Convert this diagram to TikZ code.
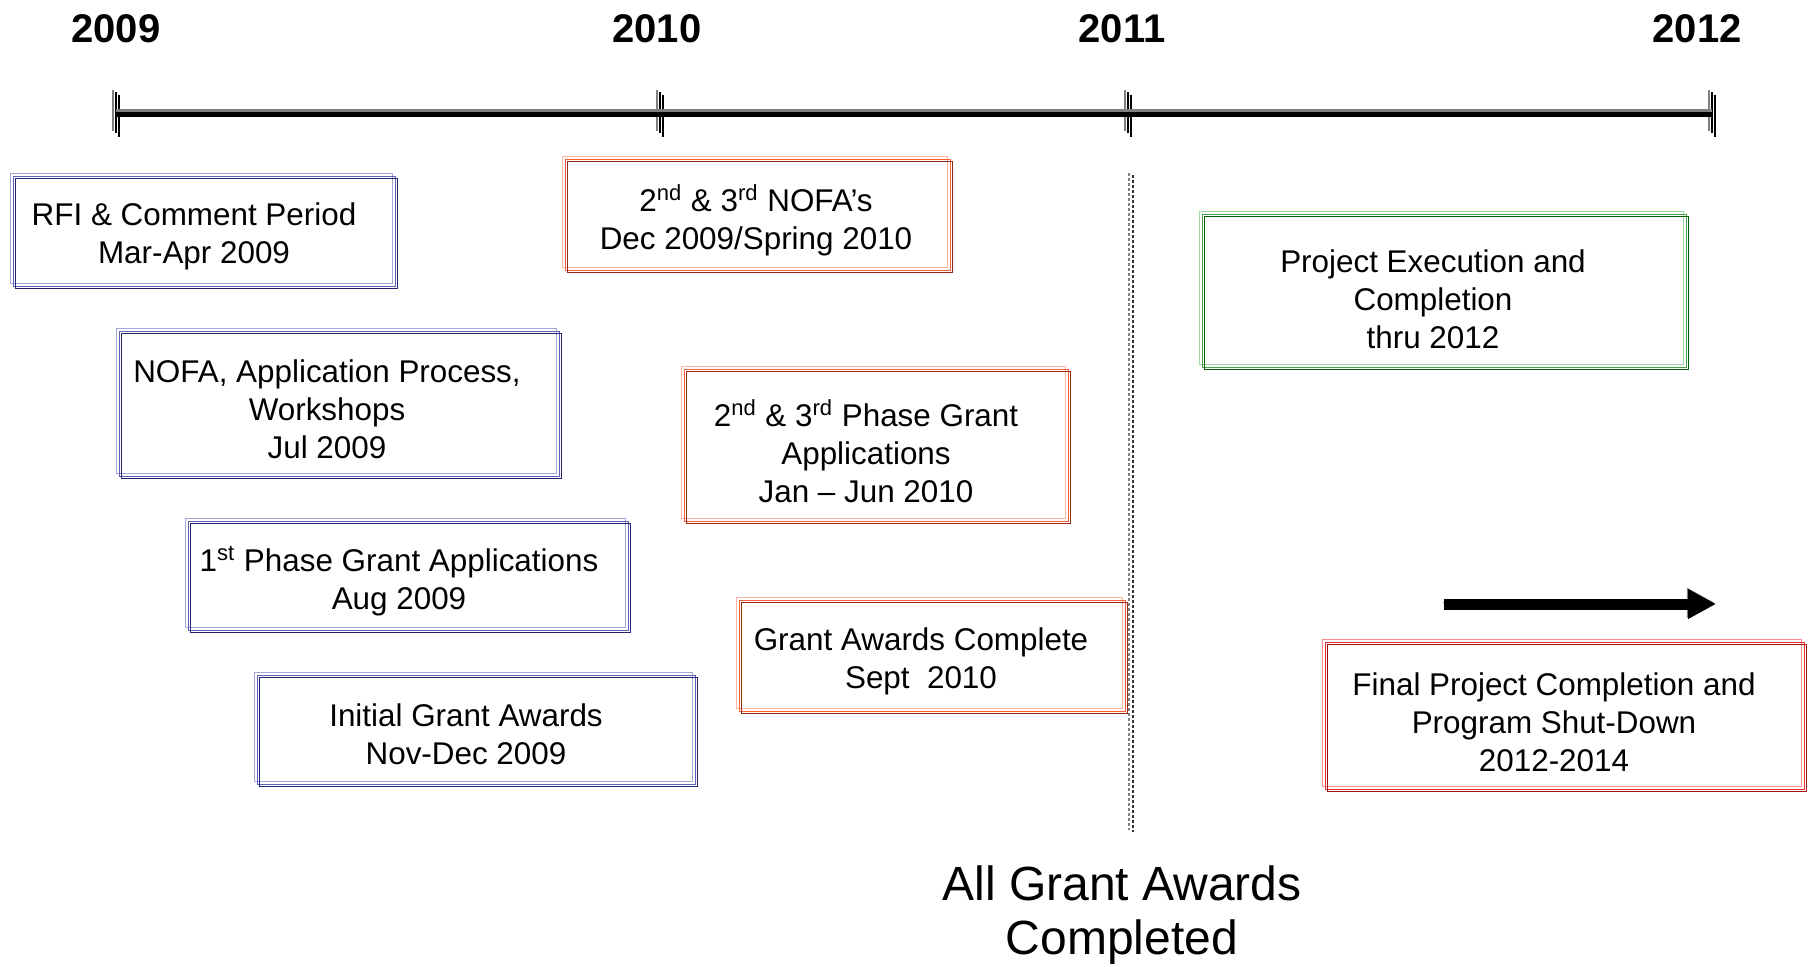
\documentclass[tikz,border=0pt]{standalone}
\usepackage{fontspec}
\setmainfont{Liberation Sans}
\usepackage{tikz}
\usetikzlibrary{arrows.meta}

\definecolor{blueA}{RGB}{165,165,222}
\definecolor{blueB}{RGB}{95,95,185}
\definecolor{blueC}{RGB}{35,35,110}
\definecolor{orangeA}{RGB}{255,178,160}
\definecolor{orangeB}{RGB}{250,95,60}
\definecolor{orangeC}{RGB}{150,40,20}
\definecolor{greenA}{RGB}{160,212,160}
\definecolor{greenB}{RGB}{70,160,70}
\definecolor{greenC}{RGB}{0,95,0}
\definecolor{redA}{RGB}{255,140,140}
\definecolor{redB}{RGB}{235,50,50}
\definecolor{redC}{RGB}{160,20,20}

\tikzset{
  tribox/.style n args={3}{draw=#2, line width=0.45pt, inner sep=0pt,
    preaction={draw=#1, transform canvas={shift={(-1.3pt,1.3pt)}}},
    postaction={draw=#3, transform canvas={shift={(1.2pt,-1.2pt)}}}},
  bluebox/.style={tribox={blueA}{blueB}{blueC}},
  orangebox/.style={tribox={orangeA}{orangeB}{orangeC}},
  greenbox/.style={tribox={greenA}{greenB}{greenC}},
  redbox/.style={tribox={redA}{redB}{redC}},
  boxtext/.style={align=center, inner sep=0pt, font=\fontsize{15.7}{19}\selectfont},
  yearlabel/.style={font=\fontsize{20}{24}\selectfont\bfseries, inner sep=0pt},
  biglabel/.style={align=center, inner sep=0pt, font=\fontsize{24}{27}\selectfont},
  timeline/.style={line width=2.5pt, preaction={draw=gray, line width=3.5pt,
    transform canvas={yshift=0.75pt}}},
  fatarrow/.style={line width=5.5pt, -{Triangle[length=14pt,width=14pt]},
    preaction={draw=gray, transform canvas={shift={(-0.6pt,0.6pt)}}}}
}

\begin{document}
\begin{tikzpicture}[x=0.5pt, y=-0.5pt]
  \useasboundingbox (0,0) rectangle (1808,966);

  % years and ticks
  \foreach \yr/\x/\lx in {2009/116/116, 2010/660/657, 2011/1128/1122, 2012/1712/1697} {
    \coordinate (t\yr) at (\x,114);
    \node[yearlabel] (y\yr) at (\lx,29) {\yr};
    \draw[gray, line width=1pt] ([shift={(-3,-24)}]t\yr) -- ([shift={(-3,17)}]t\yr);
    \draw[line width=1pt] ([shift={(0,-22)}]t\yr) -- ([shift={(0,19)}]t\yr);
    \draw[line width=1pt] ([shift={(3,-19)}]t\yr) -- ([shift={(3,23)}]t\yr);
  }
  \draw[timeline] (t2009) -- (t2012);

  % 2009 boxes
  \node[bluebox, minimum width=191pt, minimum height=55pt] (rfi) at (204,231) {};
  \node[boxtext] (rfitext) at (194,236) {RFI \& Comment Period\\Mar-Apr 2009};
  \node[bluebox, minimum width=220pt, minimum height=72.5pt] (nofa) at (339,403.5) {};
  \node[boxtext] (nofatext) at (327,409) {NOFA, Application Process,\\Workshops\\Jul 2009};
  \node[bluebox, minimum width=220pt, minimum height=54.5pt] (phaseone) at (408,575.5) {};
  \node[boxtext] (phaseonetext) at (399,581) {1\textsuperscript{st} Phase Grant Applications\\Aug 2009};
  \node[bluebox, minimum width=219pt, minimum height=54.5pt] (initial) at (476,729.5) {};
  \node[boxtext] (initialtext) at (466,734.5) {Initial Grant Awards\\Nov-Dec 2009};

  % 2010 boxes
  \node[orangebox, minimum width=192.5pt, minimum height=55.5pt] (nofatwo) at (757.5,214.5) {};
  \node[boxtext] (nofatwotext) at (756,220.5) {2\textsuperscript{nd} \& 3\textsuperscript{rd} NOFA’s\\Dec 2009/Spring 2010};
  \node[orangebox, minimum width=192pt, minimum height=76pt] (phasetwo) at (876,445) {};
  \node[boxtext] (phasetwotext) at (866,451) {2\textsuperscript{nd} \& 3\textsuperscript{rd} Phase Grant\\Applications\\Jan – Jun 2010};
  \node[orangebox, minimum width=193pt, minimum height=55.5pt] (awards) at (932,655.5) {};
  \node[boxtext] (awardstext) at (921,661.5) {Grant Awards Complete\\Sept\ \ 2010};

  % 2011 and later
  \node[greenbox, minimum width=242pt, minimum height=76.5pt] (execution) at (1444,290.5) {};
  \node[boxtext] (executiontext) at (1433,299) {Project Execution and\\Completion\\thru 2012};
  \node[redbox, minimum width=239.5pt, minimum height=73.5pt] (final) at (1564.5,715.5) {};
  \node[boxtext] (finaltext) at (1554,722.5) {Final Project Completion and\\Program Shut-Down\\2012-2014};

  \coordinate (arrfrom) at (1444,604);
  \coordinate (arrto) at (1716,604);
  \draw[fatarrow] (arrfrom) -- (arrto);

  % cut-off line
  \coordinate (cuttop) at (1131,173);
  \coordinate (cutbot) at (1131,830);
  \draw[gray, line width=1.1pt, dash pattern=on 1.5pt off 1pt] ([shift={(-2,0)}]cuttop) -- ([shift={(-2,0)}]cutbot);
  \draw[black!80, line width=1.1pt, dash pattern=on 1.5pt off 1pt] ([shift={(2,2)}]cuttop) -- ([shift={(2,2)}]cutbot);

  \node[biglabel] (allawards) at (1122,915) {All Grant Awards\\Completed};
\end{tikzpicture}
\end{document}
